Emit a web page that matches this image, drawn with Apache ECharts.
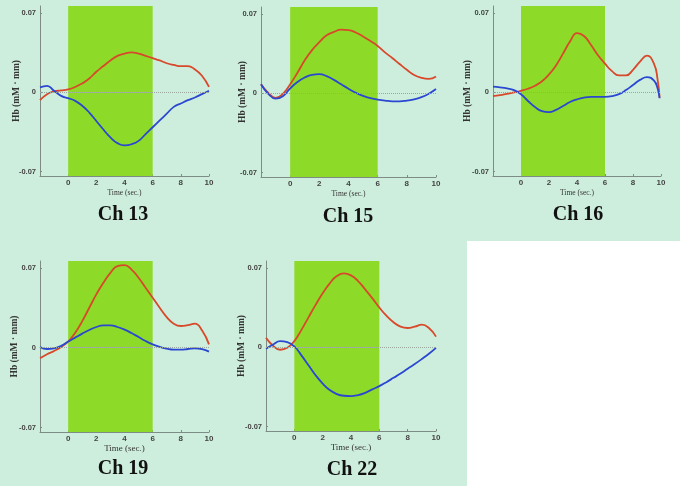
<!DOCTYPE html>
<html>
<head>
<meta charset="utf-8">
<script src="https://cdn.jsdelivr.net/npm/echarts@6/dist/echarts.min.js"></script>
<style>
  html, body { margin: 0; padding: 0; background: #fff; }
  #chart { width: 680px; height: 486px; }
</style>
</head>
<body>
<div id="chart"></div>
<script>
// time axis (sec.)
const time = [-2, -1.5, -1, -0.5, 0, 0.5, 1, 1.5, 2, 2.5, 3, 3.5, 4, 4.5, 5, 5.5, 6, 6.5, 7, 7.5, 8, 8.5, 9, 9.5, 10];
const time16 = [-2, -1.5, -1, -0.5, 0, 0.5, 1, 1.5, 2, 2.5, 3, 3.5, 4, 4.5, 5, 5.5, 6, 6.5, 7, 7.5, 8, 8.5, 9, 9.5, 9.75, 9.9];
const xTicks = [0, 2, 4, 6, 8, 10];
const yTicks = [-0.07, 0, 0.07];
const taskStart = 0;
const taskEnd = 6;

// Hb curves, red = oxy, blue = deoxy
const ch13Red = [-0.0071, -0.0018, 0.0006, 0.0015, 0.0024, 0.0045, 0.0077, 0.012, 0.018, 0.023, 0.028, 0.032, 0.034, 0.035, 0.034, 0.032, 0.030, 0.028, 0.0255, 0.024, 0.023, 0.023, 0.020, 0.0145, 0.0047];
const ch13Blue = [0.0042, 0.0056, 0.0012, -0.0033, -0.0053, -0.0077, -0.012, -0.018, -0.0255, -0.033, -0.040, -0.045, -0.047, -0.046, -0.043, -0.037, -0.031, -0.025, -0.019, -0.013, -0.010, -0.0071, -0.0047, -0.0018, 0.0012];

const ch15Red = [0.0078, 0.0003, -0.0042, -0.0006, 0.0078, 0.018, 0.029, 0.038, 0.045, 0.051, 0.054, 0.056, 0.0556, 0.0535, 0.050, 0.046, 0.0416, 0.036, 0.031, 0.0257, 0.0206, 0.016, 0.0135, 0.0126, 0.0147];
const ch15Blue = [0.0078, -0.0006, -0.0048, -0.0027, 0.0042, 0.0099, 0.0138, 0.0161, 0.0167, 0.015, 0.0117, 0.0078, 0.0039, 0.0003, -0.0024, -0.0045, -0.0057, -0.0066, -0.0072, -0.0072, -0.0066, -0.0054, -0.0036, -0.0006, 0.0036];

const ch16Red = [-0.0036, -0.0027, -0.0015, -0.0003, 0.0012, 0.003, 0.0057, 0.0096, 0.0156, 0.0236, 0.034, 0.0446, 0.052, 0.0495, 0.0416, 0.0326, 0.0251, 0.0185, 0.0147, 0.0147, 0.0197, 0.027, 0.0322, 0.025, 0.0117, -0.0048];
const ch16Blue = [0.0048, 0.0042, 0.0033, 0.0018, -0.0018, -0.0078, -0.0132, -0.0168, -0.0177, -0.0156, -0.0123, -0.0087, -0.0063, -0.0048, -0.0042, -0.0042, -0.0042, -0.0036, -0.0018, 0.0018, 0.0063, 0.0108, 0.0132, 0.0102, 0.0036, -0.0054];

const ch19Red = [-0.0093, -0.0058, -0.0029, 0.0006, 0.0053, 0.0131, 0.0233, 0.035, 0.0467, 0.0569, 0.0656, 0.0715, 0.0723, 0.0685, 0.0613, 0.0525, 0.0438, 0.035, 0.0268, 0.021, 0.019, 0.0198, 0.021, 0.0152, 0.0029];
const ch19Blue = [0.0006, -0.0012, -0.0006, 0.0015, 0.0053, 0.0088, 0.0123, 0.0155, 0.0181, 0.0195, 0.0195, 0.0181, 0.0158, 0.0128, 0.0093, 0.0058, 0.0029, 0.0006, -0.0009, -0.0017, -0.0017, -0.0012, -0.0006, -0.0012, -0.0035];

const ch22Red = [0.0082, 0.0012, -0.0023, -0.0006, 0.0053, 0.0152, 0.0263, 0.0373, 0.0475, 0.0563, 0.0627, 0.065, 0.0633, 0.0583, 0.051, 0.0432, 0.035, 0.0277, 0.0219, 0.0181, 0.0169, 0.0181, 0.0198, 0.0169, 0.0093];
const ch22Blue = [-0.0015, 0.0023, 0.0053, 0.0044, 0.0006, -0.0073, -0.016, -0.0248, -0.0321, -0.0379, -0.0414, -0.0429, -0.0432, -0.0423, -0.0403, -0.0373, -0.0344, -0.0309, -0.0271, -0.0233, -0.019, -0.0149, -0.0105, -0.0058, -0.0006];

const channels = ['Ch 13', 'Ch 15', 'Ch 16', 'Ch 19', 'Ch 22'];

const panels = [
  { t: time, red: ch13Red, blue: ch13Blue, left: 40, top: 6, width: 169, height: 170, tx: 123, ty: 215, hbGap: 18, timeGap: 13, timeSize: 7.5 },
  { t: time, red: ch15Red, blue: ch15Blue, left: 261, top: 7, width: 175, height: 170, tx: 348, ty: 217, hbGap: 13, timeGap: 13, timeSize: 7.5 },
  { t: time16, red: ch16Red, blue: ch16Blue, left: 493, top: 6, width: 168, height: 170, tx: 578, ty: 215, hbGap: 20, timeGap: 13, timeSize: 7.5 },
  { t: time, red: ch19Red, blue: ch19Blue, left: 40, top: 261, width: 169, height: 171, tx: 123, ty: 469, hbGap: 20, timeGap: 12, timeSize: 9 },
  { t: time, red: ch22Red, blue: ch22Blue, left: 266, top: 261, width: 170, height: 170, tx: 352, ty: 470, hbGap: 19, timeGap: 12, timeSize: 9 }
];

const pairs = (t, v) => t.map((x, i) => [x, v[i]]);

const axisGray = '#7d8c84';
const grid = [], xAxis = [], yAxis = [], series = [];
const graphic = [
  { type: 'rect', shape: { x: 467, y: 241, width: 213, height: 245 }, style: { fill: '#fff' }, silent: true }
];

panels.forEach((p, i) => {
  grid.push({ left: p.left, top: p.top, width: p.width, height: p.height });
  xAxis.push({
    type: 'value', gridIndex: i, min: -2, max: 10,
    name: 'Time (sec.)', nameLocation: 'middle', nameGap: p.timeGap, nameMoveOverlap: false,
    nameTextStyle: { fontFamily: 'Liberation Serif', fontSize: p.timeSize, color: '#333' },
    axisLine: { onZero: false, lineStyle: { color: axisGray, width: 1 } },
    axisTick: { customValues: xTicks, inside: true, length: 2, lineStyle: { color: axisGray } },
    axisLabel: { customValues: xTicks, margin: 3, fontFamily: 'Liberation Sans', fontWeight: 'bold', fontSize: 8, color: '#444' },
    splitLine: { show: false }
  });
  yAxis.push({
    type: 'value', gridIndex: i, min: -0.074, max: 0.076,
    name: 'Hb (mM · mm)', nameLocation: 'middle', nameRotate: 90, nameGap: p.hbGap, nameMoveOverlap: false,
    nameTextStyle: { fontFamily: 'Liberation Serif', fontWeight: 'bold', fontSize: 9.5, color: '#333' },
    axisLine: { onZero: false, lineStyle: { color: axisGray, width: 1 } },
    axisTick: { customValues: yTicks, inside: true, length: 2, lineStyle: { color: axisGray } },
    axisLabel: { customValues: yTicks, margin: 4, fontFamily: 'Liberation Sans', fontWeight: 'bold', fontSize: 7.5, color: '#444' },
    splitLine: { show: false }
  });
  series.push({
    type: 'line', xAxisIndex: i, yAxisIndex: i,
    data: pairs(p.t, p.red), smooth: true, showSymbol: false, silent: true,
    lineStyle: { color: '#d8482a', width: 1.8 },
    markArea: {
      silent: true,
      itemStyle: { color: '#8ddb28', opacity: 1 },
      data: [[{ xAxis: taskStart }, { xAxis: taskEnd }]]
    }
  });
  series.push({
    type: 'line', xAxisIndex: i, yAxisIndex: i,
    data: pairs(p.t, p.blue), smooth: true, showSymbol: false, silent: true,
    lineStyle: { color: '#2a47d2', width: 1.8 },
    markLine: {
      silent: true, symbol: 'none', label: { show: false },
      lineStyle: { color: '#9aa89f', type: 'dotted', width: 1 },
      data: [{ yAxis: 0 }]
    }
  });
  graphic.push({
    type: 'text', x: p.tx, y: p.ty, silent: true,
    style: { text: channels[i], align: 'center', verticalAlign: 'middle', font: 'bold 20px "Liberation Serif"', fill: '#111' }
  });
});

const myChart = echarts.init(document.getElementById('chart'));
myChart.setOption({
  animation: false,
  backgroundColor: '#ceeedd',
  grid, xAxis, yAxis, series, graphic
});
</script>
</body>
</html>
